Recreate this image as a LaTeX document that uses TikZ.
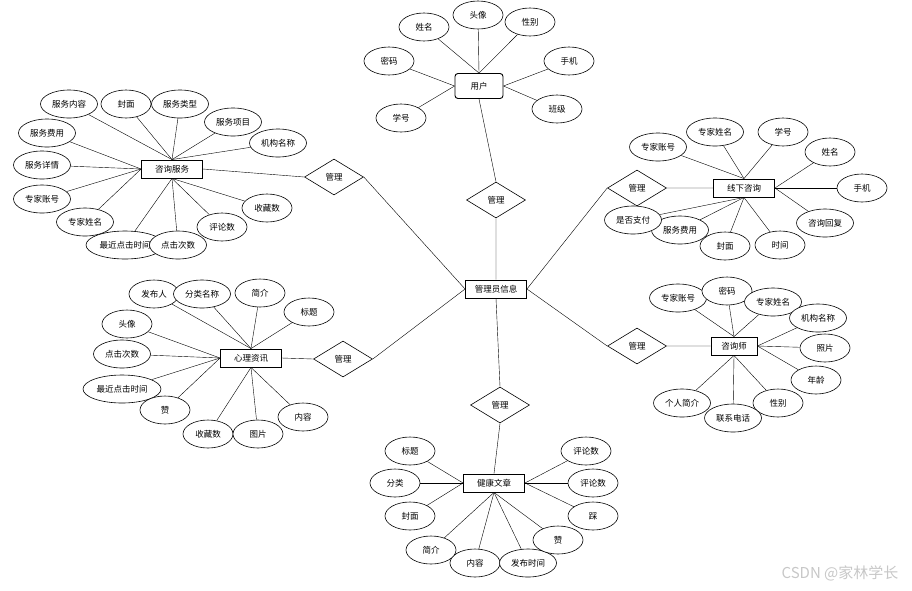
\documentclass[tikz,border=0pt]{standalone}
\usepackage{fontspec}
\setmainfont{Noto Sans CJK SC}
\usetikzlibrary{shapes.geometric,backgrounds}

\begin{document}
\begin{tikzpicture}[x=1pt,y=-1pt,line width=0.6pt,font=\fontsize{8.5}{10}\selectfont,
  attr/.style={ellipse,draw,fill=white,minimum width=50pt,minimum height=28pt,inner sep=0pt},
  wattr/.style={attr,minimum width=57pt},
  lattr/.style={attr,minimum width=78pt},
  ent/.style={draw,fill=white,line width=0.9pt,minimum width=61pt,minimum height=18pt,inner sep=0pt},
  rel/.style={diamond,draw,fill=white,minimum width=59pt,minimum height=36pt,inner sep=0pt}]
\useasboundingbox (0,0) rectangle (912,590);

\node[ent] (gly) at (496,289) {管理员信息};
\node[rel] (m1) at (496,200) {管理};
\node[rel] (m2) at (334,177) {管理};
\node[rel] (m3) at (343,359) {管理};
\node[rel] (m4) at (500,405) {管理};
\node[rel] (m5) at (637,188) {管理};
\node[rel] (m6) at (637,346) {管理};

\node[ent,rounded corners=3pt,minimum width=48pt,minimum height=25pt] (yh) at (479,86) {用户};
\node[attr] (yh1) at (424,27) {姓名};
\node[attr] (yh2) at (478,15) {头像};
\node[attr] (yh3) at (530,22) {性别};
\node[attr] (yh4) at (569,61) {手机};
\node[attr] (yh5) at (557,109) {班级};
\node[attr] (yh6) at (389,61) {密码};
\node[attr] (yh7) at (401,118) {学号};

\node[ent] (zf) at (172,169) {咨询服务};
\node[wattr] (zf1) at (69,104) {服务内容};
\node[attr] (zf2) at (126,104) {封面};
\node[wattr] (zf3) at (180,104) {服务类型};
\node[wattr] (zf4) at (233,122) {服务项目};
\node[wattr] (zf5) at (278,143) {机构名称};
\node[wattr] (zf6) at (47,133) {服务费用};
\node[wattr] (zf7) at (42,165) {服务详情};
\node[wattr] (zf8) at (42,199) {专家账号};
\node[wattr] (zf9) at (85,222) {专家姓名};
\node[lattr] (zf10) at (125,245) {最近点击时间};
\node[wattr] (zf11) at (178,245) {点击次数};
\node[attr] (zf12) at (222,227) {评论数};
\node[attr] (zf13) at (267,208) {收藏数};

\node[ent] (xx) at (744,188) {线下咨询};
\node[wattr] (xx1) at (658,147) {专家账号};
\node[wattr] (xx2) at (715,132) {专家姓名};
\node[attr] (xx3) at (783,132) {学号};
\node[attr] (xx4) at (830,152) {姓名};
\node[attr] (xx5) at (862,188) {手机};
\node[wattr] (xx6) at (825,223) {咨询回复};
\node[attr] (xx7) at (780,245) {时间};
\node[wattr] (xx8) at (680,230) {服务费用};
\node[attr] (xx9) at (725,246) {封面};
\node[wattr] (xx10) at (633,220) {是否支付};

\node[ent] (xl) at (251,358) {心理资讯};
\node[attr] (xl1) at (154,294) {发布人};
\node[wattr] (xl2) at (202,294) {分类名称};
\node[attr] (xl3) at (260,293) {简介};
\node[attr] (xl4) at (309,312) {标题};
\node[attr] (xl5) at (127,324) {头像};
\node[wattr] (xl6) at (122,354) {点击次数};
\node[lattr] (xl7) at (122,389) {最近点击时间};
\node[attr] (xl8) at (165,410) {赞};
\node[attr] (xl9) at (208,434) {收藏数};
\node[attr] (xl10) at (258,434) {图片};
\node[attr] (xl11) at (303,417) {内容};

\node[ent,minimum width=46pt] (zxs) at (734,346) {咨询师};
\node[wattr] (zxs1) at (678,298) {专家账号};
\node[attr] (zxs2) at (727,291) {密码};
\node[wattr] (zxs3) at (773,302) {专家姓名};
\node[wattr] (zxs4) at (818,318) {机构名称};
\node[attr] (zxs5) at (825,348) {照片};
\node[attr] (zxs6) at (816,380) {年龄};
\node[attr] (zxs7) at (778,403) {性别};
\node[wattr] (zxs8) at (682,403) {个人简介};
\node[wattr] (zxs9) at (733,418) {联系电话};

\node[ent] (jk) at (494,483) {健康文章};
\node[attr] (jk1) at (410,451) {标题};
\node[attr] (jk2) at (395,483) {分类};
\node[attr] (jk3) at (410,516) {封面};
\node[attr] (jk4) at (475,563) {内容};
\node[attr] (jk5) at (431,550) {简介};
\node[wattr] (jk6) at (528,563) {发布时间};
\node[attr] (jk7) at (558,540) {赞};
\node[attr] (jk8) at (593,516) {踩};
\node[attr] (jk9) at (593,483) {评论数};
\node[attr] (jk10) at (586,451) {评论数};

\node[text=black!22,font=\fontsize{15}{17}\selectfont] (wm) at (840,573) {CSDN @家林学长};

\begin{scope}[on background layer]
\draw (yh.south) -- (m1.north) (m1.south) -- (gly.north);
\draw (zf.east) -- (m2.west) (m2.east) -- (gly.west);
\draw (xl.east) -- (m3.west) (m3.east) -- (gly.west);
\draw (gly.south) -- (m4.north) (m4.south) -- (jk.north);
\draw (gly.east) -- (m5.west) (m5.east) -- (xx.west);
\draw (gly.east) -- (m6.west) (m6.east) -- (zxs.west);

\foreach \a in {yh1,yh2,yh3} \draw (\a) -- (yh.north);
\foreach \a in {yh4,yh5} \draw (\a) -- (yh.east);
\foreach \a in {yh6,yh7} \draw (\a) -- (yh.west);

\foreach \a in {zf1,zf2,zf3,zf4,zf5} \draw (\a) -- (zf.north);
\foreach \a in {zf6,zf7,zf8,zf9} \draw (\a) -- (zf.west);
\foreach \a in {zf10,zf11,zf12,zf13} \draw (\a) -- (zf.south);

\foreach \a in {xx1,xx2,xx3} \draw (\a) -- (xx.north);
\foreach \a in {xx4,xx5,xx6} \draw (\a) -- (xx.east);
\foreach \a in {xx7,xx8,xx9,xx10} \draw (\a) -- (xx.south);

\foreach \a in {xl1,xl2,xl3,xl4} \draw (\a) -- (xl.north);
\foreach \a in {xl5,xl6,xl7,xl8} \draw (\a) -- (xl.west);
\foreach \a in {xl9,xl10,xl11} \draw (\a) -- (xl.south);

\foreach \a in {zxs1,zxs2,zxs3} \draw (\a) -- (zxs.north);
\foreach \a in {zxs4,zxs5,zxs6} \draw (\a) -- (zxs.east);
\foreach \a in {zxs7,zxs8,zxs9} \draw (\a) -- (zxs.south);

\foreach \a in {jk1,jk2,jk3} \draw (\a) -- (jk.west);
\foreach \a in {jk8,jk9,jk10} \draw (\a) -- (jk.east);
\foreach \a in {jk4,jk5,jk6,jk7} \draw (\a) -- (jk.south);
\end{scope}
\end{tikzpicture}
\end{document}
